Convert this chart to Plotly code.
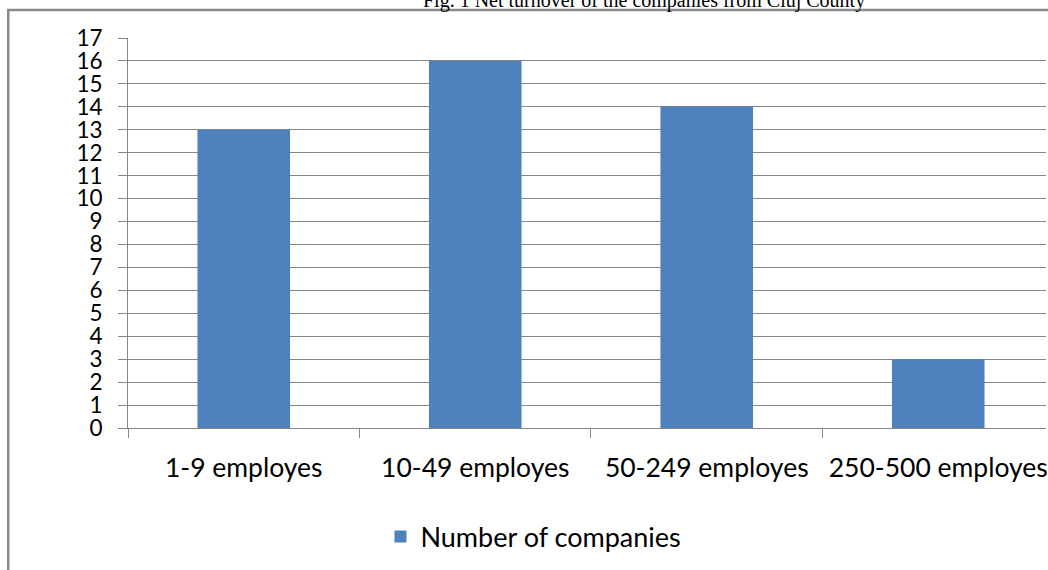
import plotly.graph_objects as go

categories = ["1-9 employes", "10-49 employes", "50-249 employes", "250-500 employes"]
companies = [13, 16, 14, 3]
y_ticks = list(range(0, 18))
series_name = "Number of companies"
title_text = "Fig. 1 Net turnover of the companies from Cluj County"

W, H = 1048, 570
L, T, R, B = 128, 38, 0, 142
plot_w = W - L - R
plot_h = H - T - B

def px_x(px):
    return (px - L) / plot_w

def px_y(py):
    return (H - B - py) / plot_h

cat_w = 232.0
font_family = "Lato, 'Open Sans', sans-serif"
grid_col = "#868686"

fig = go.Figure()
fig.add_trace(go.Bar(
    x=categories, y=companies, name=series_name,
    marker=dict(color="#4F81BD", line=dict(width=0)),
    width=0.4, showlegend=True,
))

fig.update_layout(
    width=W, height=H,
    margin=dict(l=L, r=R, t=T, b=B, pad=0),
    plot_bgcolor="white", paper_bgcolor="white",
    font=dict(family=font_family, size=25, color="#000000"),
    showlegend=True,
    legend=dict(
        orientation="h", x=px_x(381), y=px_y(537), xanchor="left", yanchor="middle",
        font=dict(family=font_family, size=27, color="#000000"),
        bgcolor="rgba(0,0,0,0)", borderwidth=0,
    ),
    xaxis=dict(
        type="category",
        range=[-0.5, -0.5 + plot_w / cat_w],
        showline=True, linecolor=grid_col, linewidth=1,
        ticks="outside", ticklen=9, tickcolor=grid_col, tickwidth=1,
        tickson="boundaries",
        showgrid=False, zeroline=False,
        tickfont=dict(family=font_family, size=26.5, color="#000000"),
        ticklabelstandoff=16,
    ),
    yaxis=dict(
        range=[0, 17], tickmode="array", tickvals=y_ticks,
        ticktext=[str(v) for v in y_ticks],
        showline=True, linecolor=grid_col, linewidth=1,
        ticks="outside", ticklen=9, tickcolor=grid_col, tickwidth=1,
        showgrid=True, gridcolor=grid_col, gridwidth=1,
        zeroline=False,
        tickfont=dict(family=font_family, size=22.5, color="#000000"),
        ticklabelstandoff=11,
    ),
    bargap=0.6,
)

# outer chart-area border (extends beyond the visible crop on right and bottom)
fig.add_shape(
    type="rect", xref="paper", yref="paper",
    x0=px_x(8), x1=px_x(1100), y0=px_y(700), y1=px_y(10),
    line=dict(color="#8a8a8a", width=2.5), fillcolor="rgba(0,0,0,0)",
    layer="below",
)

fig.add_annotation(
    text=title_text, xref="paper", yref="paper",
    x=px_x(645), y=px_y(0.5), xanchor="center", yanchor="middle",
    showarrow=False,
    font=dict(family="'Liberation Serif', 'Times New Roman', serif", size=20, color="#000000"),
)

fig.write_html("out.html", config={"displayModeBar": False},
               post_script="document.body.style.margin='0';")
